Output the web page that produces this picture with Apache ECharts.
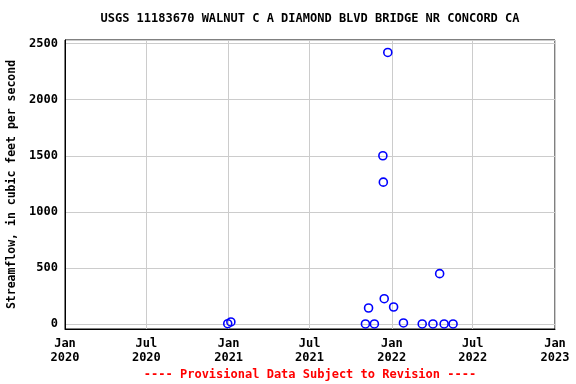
<!DOCTYPE html>
<html>
<head>
<meta charset="utf-8">
<script src="https://cdn.jsdelivr.net/npm/echarts@6/dist/echarts.min.js"></script>
<style>
  html, body { margin: 0; padding: 0; background: #fff; }
  #chart { width: 576px; height: 384px; }
</style>
</head>
<body>
<div id="chart"></div>
<script>
// measurement dates and streamflow values (cfs)
const sampleDates = [
  '2020-12-30', '2021-01-06', '2021-11-03', '2021-11-10', '2021-11-23',
  '2021-12-12', '2021-12-13', '2021-12-15', '2021-12-23', '2022-01-05',
  '2022-01-27', '2022-03-10', '2022-04-03', '2022-04-18', '2022-04-28',
  '2022-05-18'
];
const flowValues = [4, 20, 2, 144, 2, 1500, 1265, 227, 2420, 153, 11, 2, 2, 450, 2, 2];

const titleText = 'USGS 11183670 WALNUT C A DIAMOND BLVD BRIDGE NR CONCORD CA';
const footerText = '---- Provisional Data Subject to Revision ----';
const yName = 'Streamflow, in cubic feet per second';

const monoFont = 'DejaVu Sans Mono';
const monthNames = ['Jan', 'Feb', 'Mar', 'Apr', 'May', 'Jun', 'Jul', 'Aug', 'Sep', 'Oct', 'Nov', 'Dec'];

const chart = echarts.init(document.getElementById('chart'));

const option = {
  animation: false,
  backgroundColor: '#fff',
  grid: {
    left: 65, right: 21, top: 40, bottom: 55,
    containLabel: false,
    outerBoundsMode: 'none',
    show: true, borderColor: '#000', borderWidth: 1
  },
  graphic: [
    {
      type: 'text', x: 310, y: 19,
      style: {
        text: titleText, fill: '#000',
        font: 'bold 12px "' + monoFont + '"',
        align: 'center', verticalAlign: 'middle'
      }
    },
    {
      type: 'text', x: 310, y: 375,
      style: {
        text: footerText, fill: '#ff0000',
        font: 'bold 12px "' + monoFont + '"',
        align: 'center', verticalAlign: 'middle'
      }
    }
  ],
  xAxis: {
    type: 'time',
    min: '2020-01-01',
    max: '2023-01-01',
    splitNumber: 6,
    axisLine: { show: true, onZero: false, lineStyle: { color: '#000' } },
    axisTick: { show: false },
    minorTick: { show: false },
    splitLine: { show: true, lineStyle: { color: '#cccccc', width: 1 } },
    axisLabel: {
      color: '#000',
      fontFamily: monoFont,
      fontWeight: 'bold',
      fontSize: 12,
      lineHeight: 14,
      margin: 8,
      hideOverlap: false,
      showMinLabel: true,
      showMaxLabel: true,
      formatter: function (val) {
        const d = new Date(val);
        return monthNames[d.getMonth()] + '\n' + d.getFullYear();
      }
    }
  },
  yAxis: {
    type: 'value',
    min: -43,
    max: 2531,
    splitNumber: 5,
    name: yName,
    nameLocation: 'middle',
    nameGap: 47,
    nameTextStyle: {
      color: '#000', fontFamily: monoFont, fontWeight: 'bold', fontSize: 11.5
    },
    axisLine: { show: true, lineStyle: { color: '#000' } },
    axisTick: { show: false },
    splitLine: { show: true, lineStyle: { color: '#cccccc', width: 1 } },
    axisLabel: {
      color: '#000',
      fontFamily: monoFont,
      fontWeight: 'bold',
      fontSize: 12,
      margin: 7,
      showMinLabel: false,
      showMaxLabel: false,
      formatter: function (v) { return String(v); }
    }
  },
  series: [
    {
      type: 'scatter',
      symbol: 'circle',
      symbolSize: 8,
      itemStyle: {
        color: 'rgba(0,0,0,0)',
        borderColor: '#0000ff',
        borderWidth: 1.6,
        opacity: 1
      },
      data: sampleDates.map(function (d, i) { return [d, flowValues[i]]; })
    }
  ]
};

chart.setOption(option);
</script>
</body>
</html>
